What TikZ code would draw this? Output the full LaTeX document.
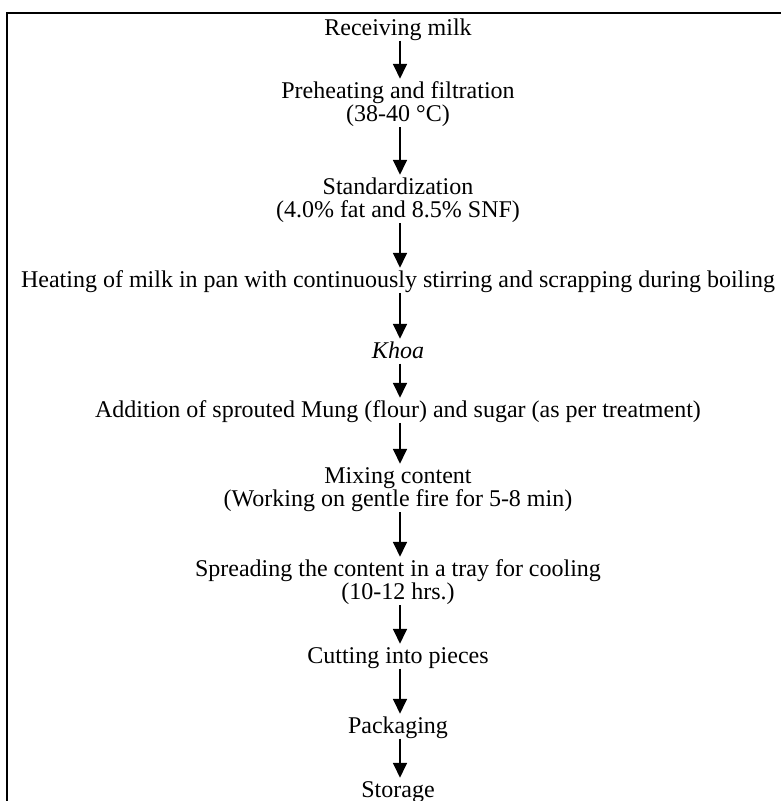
\documentclass[tikz,border=0pt]{standalone}
\usepackage{fontspec}
\setmainfont{Liberation Serif}
\usetikzlibrary{arrows.meta}
\newcommand\lstr{\vphantom{Ag()}}
\begin{document}
\begin{tikzpicture}[x=0.75pt,y=-0.75pt,
  stepbox/.style={anchor=north, inner sep=0pt, align=center, font=\fontsize{18}{15}\selectfont},
  flow/.style={-{Triangle[width=10.5pt,length=11pt]}, line width=1.1pt, shorten >=2pt},
  frame/.style={line width=1.1pt}]
\useasboundingbox (0,0) rectangle (781,801);
\draw[frame] (781,13) -- (7,13) -- (7,801);
\node[stepbox] (n1) at (398,18.3) {\lstr Receiving milk};
\node[stepbox] (n2) at (398,81.3) {\lstr Preheating and filtration\\\lstr (38-40 °C)};
\node[stepbox] (n3) at (398,177.3) {\lstr Standardization\\\lstr (4.0\% fat and 8.5\% SNF)};
\node[stepbox] (n4) at (398,270.3) {\lstr Heating of milk in pan with continuously stirring and scrapping during boiling};
\node[stepbox] (n5) at (398,341.3) {\lstr \textit{Khoa}};
\node[stepbox] (n6) at (398,400.3) {\lstr Addition of sprouted Mung (flour) and sugar (as per treatment)};
\node[stepbox] (n7) at (398,466.3) {\lstr Mixing content\\\lstr (Working on gentle fire for 5-8 min)};
\node[stepbox] (n8) at (398,559.3) {\lstr Spreading the content in a tray for cooling\\\lstr (10-12 hrs.)};
\node[stepbox] (n9) at (398,646.3) {\lstr Cutting into pieces};
\node[stepbox] (n10) at (398,716.3) {\lstr Packaging};
\node[stepbox] (n11) at (398,780.3) {\lstr Storage};
\foreach \a/\b in {n1/n2,n2/n3,n3/n4,n4/n5,n5/n6,n6/n7,n7/n8,n8/n9,n9/n10,n10/n11}
  \draw[flow] ([xshift=1.5pt]\a.south) -- ([xshift=1.5pt]\b.north);
\end{tikzpicture}
\end{document}
